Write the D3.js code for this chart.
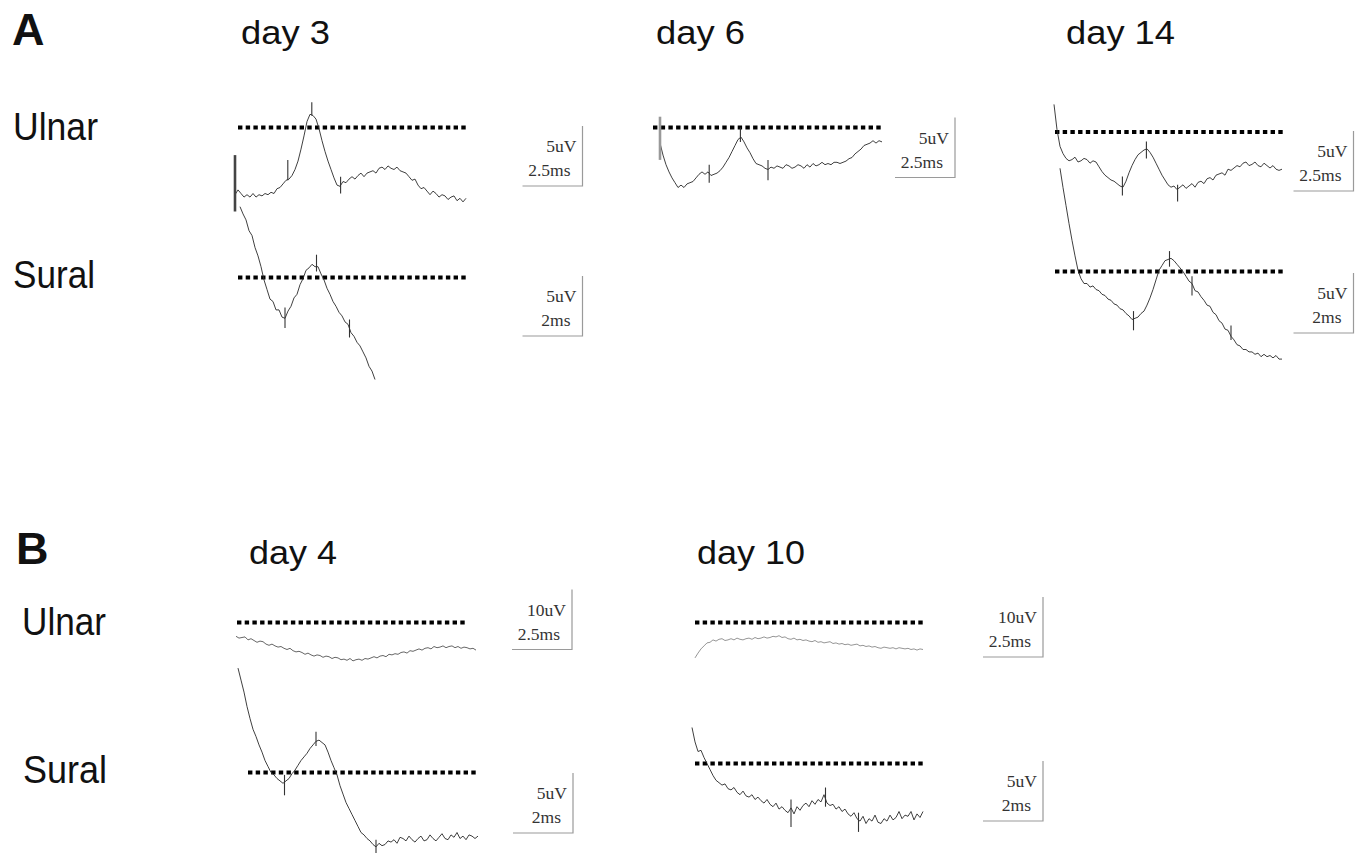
<!DOCTYPE html>
<html>
<head>
<meta charset="utf-8">
<script src="https://cdn.jsdelivr.net/npm/d3@7"></script>
<style>
  body { margin: 0; background: #fff; }
  svg { display: block; }
</style>
</head>
<body>
<svg id="fig" width="1360" height="854"></svg>
<script>
// ---- labels ----
const panelLetters = ['A', 'B'];
const dayTitles = ['day 3', 'day 6', 'day 14', 'day 4', 'day 10'];
const nerveNames = ['Ulnar', 'Sural'];

// ---- sampled traces, uV relative to the dotted baseline ----
// ulnar traces sampled every 0.125 ms, sural every 0.1 ms
const a_day3_ulnar = [-5.6,-5.2,-5.5,-5.8,-5.6,-5.8,-5.5,-5.8,-5.6,-5.7,-5.5,-5.6,-5.4,-5.5,-5.1,-5.0,-4.7,-4.4,-4.3,-4.0,-3.5,-2.8,-1.8,-0.7,0.5,1.1,1.0,0.7,-0.1,-1.1,-2.0,-2.8,-3.5,-4.2,-4.8,-4.9,-4.5,-4.6,-4.3,-4.1,-4.3,-4.0,-3.8,-4.1,-3.8,-3.7,-3.6,-3.8,-3.4,-3.3,-3.5,-3.2,-3.4,-3.5,-3.3,-3.6,-3.7,-3.8,-4.1,-4.4,-4.3,-4.8,-5.1,-5.0,-5.3,-5.6,-5.3,-5.5,-5.8,-5.6,-5.7,-6.0,-5.8,-5.7,-6.1,-5.9,-6.2,-5.9];
const a_day3_sural = [5.9,5.3,4.8,3.9,3.5,2.5,1.8,0.9,-0.2,-1.0,-1.8,-2.0,-2.7,-2.7,-3.3,-3.4,-2.8,-2.4,-1.7,-1.4,-0.6,-0.1,0.6,0.8,1.1,0.9,0.9,0.3,-0.2,-0.9,-1.4,-2.0,-2.4,-2.9,-3.2,-3.7,-3.9,-4.6,-4.9,-5.4,-5.7,-6.2,-6.7,-7.4,-7.8,-8.5];
const a_day6_ulnar = [-1.3,-2.3,-3.1,-3.7,-4.2,-4.6,-5.0,-4.8,-5.0,-4.7,-4.6,-4.5,-4.2,-3.9,-3.7,-3.9,-3.7,-4.0,-3.9,-3.8,-3.6,-3.3,-2.9,-2.5,-2.0,-1.5,-1.0,-0.8,-1.2,-1.7,-2.1,-2.6,-3.0,-3.1,-3.2,-3.4,-3.5,-3.3,-3.4,-3.2,-3.3,-3.4,-3.1,-3.2,-3.4,-3.3,-3.1,-3.2,-3.4,-3.1,-3.3,-3.0,-3.2,-3.1,-2.9,-3.1,-3.0,-3.1,-2.9,-2.9,-3.0,-2.9,-2.8,-2.6,-2.5,-2.2,-2.0,-1.8,-1.5,-1.4,-1.3,-1.1,-1.3,-1.1,-1.2];
const a_day14_ulnar = [2.3,0.2,-1.2,-1.8,-2.2,-2.4,-2.3,-2.1,-2.5,-2.4,-2.2,-2.3,-2.6,-2.4,-2.5,-2.9,-3.3,-3.6,-3.8,-4.0,-4.1,-4.3,-4.5,-4.6,-4.1,-3.4,-2.8,-2.3,-1.9,-1.7,-1.5,-1.4,-1.7,-2.1,-2.6,-3.1,-3.6,-4.0,-4.4,-4.6,-4.5,-4.8,-4.6,-4.4,-4.7,-4.5,-4.3,-4.6,-4.2,-4.1,-4.3,-3.9,-3.8,-4.0,-3.6,-3.5,-3.4,-3.6,-3.1,-3.2,-3.0,-2.8,-2.9,-2.6,-2.5,-2.8,-2.7,-2.5,-2.8,-2.9,-2.6,-2.8,-3.0,-2.8,-3.1,-3.2,-3.1];
const a_day14_sural = [8.6,7.0,5.5,4.0,2.6,1.3,0.1,-0.6,-1.0,-1.0,-1.3,-1.2,-1.5,-1.6,-1.9,-2.0,-2.3,-2.4,-2.7,-2.8,-3.1,-3.2,-3.5,-3.7,-4.0,-3.9,-3.8,-3.5,-3.3,-2.8,-2.2,-1.5,-0.7,0.1,0.5,0.9,1.0,1.1,0.9,0.6,0.3,0.0,-0.4,-0.8,-1.0,-1.6,-1.7,-2.1,-2.4,-2.8,-2.9,-3.4,-3.6,-4.1,-4.3,-4.8,-4.9,-5.4,-5.7,-6.1,-6.2,-6.5,-6.5,-6.7,-6.7,-6.9,-6.8,-7.1,-6.9,-7.1,-7.0,-7.2,-7.0,-7.3,-7.3];
const b_day4_ulnar = [-2.3,-2.6,-2.5,-2.4,-2.9,-2.7,-3.0,-3.3,-3.1,-3.2,-3.6,-3.8,-3.6,-3.9,-4.1,-4.0,-4.3,-4.5,-4.3,-4.7,-4.9,-4.8,-5.0,-5.3,-5.1,-5.4,-5.6,-5.4,-5.5,-5.8,-5.6,-5.7,-6.0,-5.8,-5.9,-6.2,-6.1,-6.3,-6.0,-6.4,-6.2,-6.1,-6.3,-6.0,-6.1,-5.9,-5.7,-5.9,-5.6,-5.5,-5.7,-5.3,-5.4,-5.2,-5.3,-5.0,-4.9,-5.1,-4.7,-4.8,-4.6,-4.4,-4.6,-4.3,-4.2,-4.4,-4.0,-4.2,-4.1,-3.9,-4.2,-4.0,-3.9,-4.2,-4.0,-4.3,-4.1,-4.2,-4.4,-4.3,-4.6];
const b_day4_sural = [8.7,7.7,6.7,5.5,4.5,3.6,3.0,2.3,1.7,1.0,0.5,0.0,-0.2,-0.5,-0.7,-0.9,-0.7,-0.5,-0.1,0.2,0.6,1.0,1.3,1.6,2.0,2.3,2.6,2.7,2.5,2.3,1.7,1.0,0.4,-0.2,-1.1,-1.8,-2.5,-3.0,-3.5,-4.0,-4.5,-5.0,-5.2,-5.5,-5.7,-6.0,-6.2,-5.9,-6.1,-6.0,-5.7,-5.8,-5.6,-5.9,-5.4,-5.5,-5.7,-5.3,-5.6,-5.8,-5.5,-5.3,-5.7,-5.6,-5.2,-5.5,-5.7,-5.4,-5.1,-5.5,-5.6,-5.2,-5.4,-5.0,-5.5,-5.3,-5.6,-5.2,-5.3,-5.5,-5.3];
const b_day10_ulnar = [-5.9,-5.1,-4.4,-3.9,-3.4,-3.3,-2.9,-3.1,-2.8,-2.7,-3.0,-2.9,-2.7,-2.9,-2.6,-2.8,-2.9,-2.7,-2.6,-2.8,-2.5,-2.7,-2.6,-2.4,-2.6,-2.5,-2.3,-2.4,-2.2,-2.5,-2.4,-2.7,-2.8,-2.6,-2.9,-2.8,-3.0,-2.9,-3.1,-3.2,-3.0,-3.3,-3.2,-3.4,-3.3,-3.2,-3.5,-3.4,-3.6,-3.5,-3.7,-3.6,-3.8,-3.7,-3.6,-3.9,-3.8,-4.0,-3.9,-4.1,-4.0,-4.2,-4.3,-4.1,-4.2,-4.3,-4.2,-4.4,-4.2,-4.3,-4.4,-4.3,-4.5,-4.4,-4.6,-4.4,-4.5];
const b_day10_sural = [3.0,1.8,1.0,1.1,0.5,0.0,-0.5,-1.0,-1.4,-1.6,-1.8,-1.7,-2.1,-2.2,-2.0,-2.4,-2.6,-2.3,-2.7,-2.8,-2.6,-3.0,-2.8,-3.1,-3.3,-3.0,-3.4,-3.6,-3.3,-3.8,-3.6,-3.9,-4.1,-3.7,-4.2,-3.6,-3.9,-3.5,-3.3,-3.6,-3.1,-3.4,-3.0,-3.2,-2.6,-3.3,-3.5,-3.4,-3.8,-3.6,-4.0,-3.8,-4.2,-4.4,-4.1,-4.6,-4.8,-4.4,-5.0,-4.6,-4.8,-4.3,-4.9,-5.0,-4.6,-4.8,-4.3,-4.7,-4.5,-4.0,-4.6,-4.3,-4.4,-4.0,-4.7,-4.2,-4.5,-4.0];

// cursor ticks on the traces: [ms, top uV, bottom uV]
const a_day3_ulnar_marks = [[2.2,-2.7,-4.4],[3.2,2.1,1.0],[4.4,-4.1,-5.5]];
const a_day3_sural_marks = [[1.5,-2.5,-4.2],[2.55,1.9,0.5],[3.65,-3.5,-5.0]];
const a_day6_ulnar_marks = [[2.05,-3.1,-4.6],[3.35,0.0,-1.2],[4.5,-2.7,-4.4]];
const a_day14_ulnar_marks = [[2.85,-3.7,-5.3],[3.85,-0.8,-2.2],[5.15,-4.4,-5.8]];
const a_day14_sural_marks = [[2.45,-3.3,-4.9],[3.65,1.7,0.4],[4.4,-0.4,-2.0],[5.7,-4.5,-5.7]];
const b_day4_sural_marks = [[1.55,-0.2,-1.9],[2.6,3.4,2.2],[4.6,-5.6,-6.7]];
const b_day10_sural_marks = [[3.3,-3.0,-5.3],[4.45,-2.0,-3.6],[5.55,-4.1,-5.7]];

// stimulus artifacts: [ms, top uV, bottom uV]
const a_day3_ulnar_artifact = [0, -2.3, -7.0];
const a_day6_ulnar_artifact = [0, 0.9, -2.7];

// scale bar values per panel
const barUv = [5, 5, 5, 5, 5, 10, 5, 10, 5];
const barMs = [2.5, 2, 2.5, 2.5, 2, 2.5, 2, 2.5, 2];
const sampleMs = [0.125, 0.1, 0.125, 0.125, 0.1, 0.125, 0.1, 0.125, 0.1];

const traces = [a_day3_ulnar, a_day3_sural, a_day6_ulnar, a_day14_ulnar, a_day14_sural,
                b_day4_ulnar, b_day4_sural, b_day10_ulnar, b_day10_sural];
const marks = [a_day3_ulnar_marks, a_day3_sural_marks, a_day6_ulnar_marks, a_day14_ulnar_marks,
               a_day14_sural_marks, [], b_day4_sural_marks, [], b_day10_sural_marks];
const artifacts = [a_day3_ulnar_artifact, null, a_day6_ulnar_artifact, null, null, null, null, null, null];

// ---- layout (pixels) ----
const BAR = 60; // scale bar length in px, both directions
const layout = [
  {x0: 235,  y0: 127.5, ref: [238, 468],   bar: [582.5, 186],  tone: '#2a2a2a'},
  {x0: 240,  y0: 277.5, ref: [238, 468],   bar: [582.5, 336],  tone: '#2a2a2a'},
  {x0: 660,  y0: 127.5, ref: [653, 883],   bar: [955, 177.5],  tone: '#2a2a2a'},
  {x0: 1054, y0: 132,   ref: [1055, 1285], bar: [1353.5, 191], tone: '#2a2a2a'},
  {x0: 1060, y0: 271.5, ref: [1055, 1285], bar: [1353.5, 333], tone: '#2a2a2a'},
  {x0: 236,  y0: 622.5, ref: [237, 467],   bar: [572, 649.5],  tone: '#555'},
  {x0: 238,  y0: 772.5, ref: [248, 477],   bar: [573, 833],    tone: '#2a2a2a'},
  {x0: 695,  y0: 622.5, ref: [695, 925],   bar: [1043, 657],   tone: '#8a8a8a'},
  {x0: 692,  y0: 763.5, ref: [695, 925],   bar: [1043, 821],   tone: '#2a2a2a'}
];

const letterPos = [[12, 45], [16, 564]];
const titlePos = [[241, 44, 89], [656, 44, 89], [1066, 44, 109], [249, 564, 88], [697, 564, 108]];
const nervePos = [[13, 140, 85, 0], [13, 288, 82, 1], [22, 635, 84, 0], [23, 783, 84, 1]];

const svg = d3.select('#fig');

// letters
svg.selectAll('text.letter').data(panelLetters).join('text')
  .attr('class', 'letter')
  .attr('x', (d, i) => letterPos[i][0])
  .attr('y', (d, i) => letterPos[i][1])
  .attr('font-family', '"Liberation Sans", Arial, sans-serif')
  .attr('font-weight', 'bold')
  .attr('font-size', 45)
  .attr('fill', '#111')
  .text(d => d);

// day titles
svg.selectAll('text.title').data(dayTitles).join('text')
  .attr('class', 'title')
  .attr('x', (d, i) => titlePos[i][0])
  .attr('y', (d, i) => titlePos[i][1])
  .attr('textLength', (d, i) => titlePos[i][2])
  .attr('lengthAdjust', 'spacingAndGlyphs')
  .attr('font-family', '"Liberation Sans", Arial, sans-serif')
  .attr('font-size', 33)
  .attr('fill', '#111')
  .text(d => d);

// nerve row names
svg.selectAll('text.nerve').data(nervePos).join('text')
  .attr('class', 'nerve')
  .attr('x', d => d[0])
  .attr('y', d => d[1])
  .attr('textLength', d => d[2])
  .attr('lengthAdjust', 'spacingAndGlyphs')
  .attr('font-family', '"Liberation Sans", Arial, sans-serif')
  .attr('font-size', 38)
  .attr('fill', '#111')
  .text(d => nerveNames[d[3]]);

// panels
traces.forEach((trace, i) => {
  const L = layout[i];
  const dt = sampleMs[i];
  const x = d3.scaleLinear().domain([0, barMs[i]]).range([L.x0, L.x0 + BAR]);
  const y = d3.scaleLinear().domain([0, barUv[i]]).range([L.y0, L.y0 - BAR]);
  const g = svg.append('g');

  // dotted reference line at 0 uV
  g.append('line')
    .attr('x1', L.ref[0]).attr('x2', L.ref[1])
    .attr('y1', y(0)).attr('y2', y(0))
    .attr('stroke', '#000')
    .attr('stroke-width', 4)
    .attr('stroke-dasharray', '4.4,3.3');

  // trace
  const line = d3.line()
    .x((d, k) => x(k * dt))
    .y(d => y(d));
  g.append('path')
    .datum(trace)
    .attr('d', line)
    .attr('fill', 'none')
    .attr('stroke', L.tone)
    .attr('stroke-width', 0.9)
    .attr('stroke-linejoin', 'round');

  // cursor ticks
  g.selectAll('line.mark').data(marks[i]).join('line')
    .attr('class', 'mark')
    .attr('x1', d => x(d[0])).attr('x2', d => x(d[0]))
    .attr('y1', d => y(d[1])).attr('y2', d => y(d[2]))
    .attr('stroke', '#333')
    .attr('stroke-width', 1.1);

  // stimulus artifact
  if (artifacts[i]) {
    const a = artifacts[i];
    g.append('line')
      .attr('x1', x(a[0])).attr('x2', x(a[0]))
      .attr('y1', y(a[1])).attr('y2', y(a[2]))
      .attr('stroke', i === 0 ? '#444' : '#999')
      .attr('stroke-width', 2.6);
  }

  // scale bar: vertical = barUv, horizontal = barMs
  const bx = L.bar[0], by = L.bar[1];
  const w = x(barMs[i]) - x(0);
  const h = y(0) - y(barUv[i]);
  g.append('path')
    .attr('d', `M${bx},${by - h}V${by}H${bx - w}`)
    .attr('fill', 'none')
    .attr('stroke', '#9a9a9a')
    .attr('stroke-width', 1.2);

  g.append('text')
    .attr('x', bx - 6).attr('y', by - 34)
    .attr('text-anchor', 'end')
    .attr('font-family', '"Liberation Serif", "Times New Roman", serif')
    .attr('font-size', 17.5)
    .attr('fill', '#333')
    .text(barUv[i] + 'uV');

  g.append('text')
    .attr('x', bx - 12).attr('y', by - 10)
    .attr('text-anchor', 'end')
    .attr('font-family', '"Liberation Serif", "Times New Roman", serif')
    .attr('font-size', 17.5)
    .attr('fill', '#333')
    .text(barMs[i] + 'ms');
});
</script>
</body>
</html>
